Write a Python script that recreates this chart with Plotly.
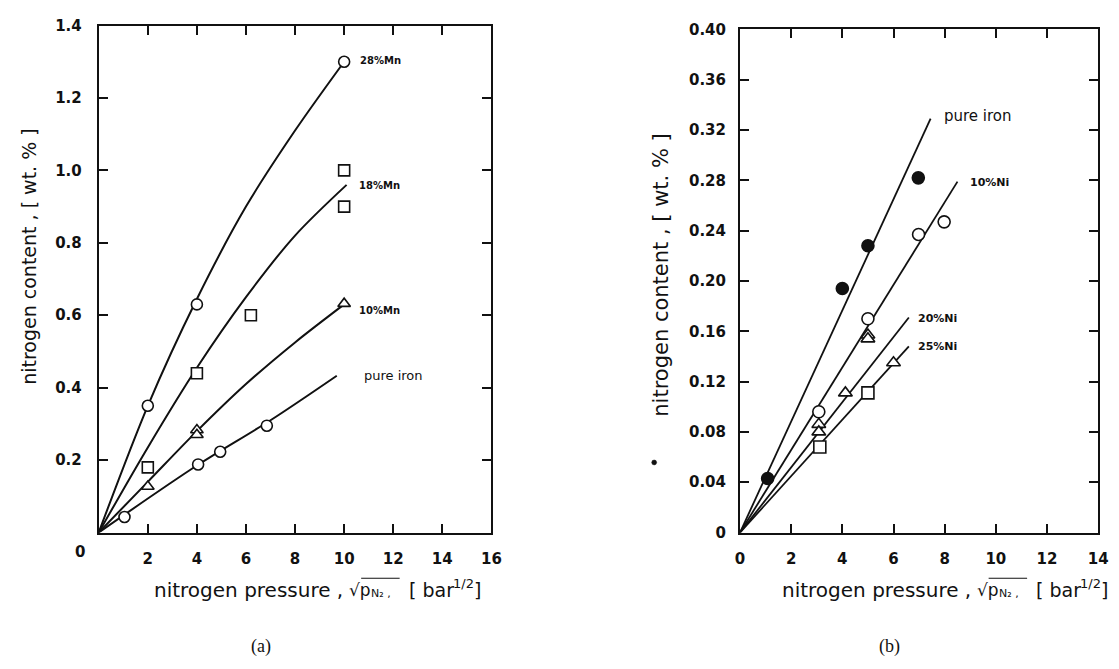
import plotly.graph_objects as go

W, H = 1119, 669

# ---------------- (a) Fe-Mn alloys ----------------
a_xticks = [2, 4, 6, 8, 10, 12, 14, 16]
a_xticktext = ["2", "4", "6", "8", "10", "12", "14", "16"]
a_yticks = [0.2, 0.4, 0.6, 0.8, 1.0, 1.2, 1.4]
a_yticktext = ["0.2", "0.4", "0.6", "0.8", "1.0", "1.2", "1.4"]

a_mn28_x = [2, 4, 10]
a_mn28_y = [0.35, 0.63, 1.30]
a_mn28_fit_x = [0, 2, 4, 6, 8, 10]
a_mn28_fit_y = [0, 0.35, 0.645, 0.90, 1.11, 1.30]

a_mn18_x = [2, 4, 6.2, 10, 10]
a_mn18_y = [0.18, 0.44, 0.60, 1.00, 0.90]
a_mn18_fit_x = [0, 2, 4, 6, 8, 10.1]
a_mn18_fit_y = [0, 0.235, 0.455, 0.65, 0.82, 0.96]

a_mn10_x = [2, 4, 4, 10]
a_mn10_y = [0.127, 0.283, 0.27, 0.632]
a_mn10_fit_x = [0, 2, 4, 6, 8, 10]
a_mn10_fit_y = [0, 0.14, 0.28, 0.41, 0.525, 0.63]

a_fe_x = [1.05, 4.05, 4.95, 6.85]
a_fe_y = [0.043, 0.188, 0.223, 0.295]
a_fe_fit_x = [0, 4, 7, 9.7]
a_fe_fit_y = [0, 0.185, 0.31, 0.433]

a_labels = ["28%Mn", "18%Mn", "10%Mn", "pure iron"]
a_label_x = [10.57, 10.53, 10.53, 10.73]
a_label_y = [1.303, 0.957, 0.613, 0.433]

# ---------------- (b) Fe-Ni alloys ----------------
b_xticks = [0, 2, 4, 6, 8, 10, 12, 14]
b_xticktext = ["0", "2", "4", "6", "8", "10", "12", "14"]
b_yticks = [0, 0.04, 0.08, 0.12, 0.16, 0.20, 0.24, 0.28, 0.32, 0.36, 0.40]
b_yticktext = ["0", "0.04", "0.08", "0.12", "0.16", "0.20", "0.24", "0.28", "0.32", "0.36", "0.40"]

b_fe_x = [1.08, 4.0, 5.0, 6.97]
b_fe_y = [0.043, 0.194, 0.228, 0.282]
b_fe_fit_x = [0, 7.45]
b_fe_fit_y = [0, 0.329]

b_ni10_x = [3.08, 5.0, 6.98, 7.98]
b_ni10_y = [0.096, 0.170, 0.237, 0.247]
b_ni10_fit_x = [0, 8.5]
b_ni10_fit_y = [0, 0.279]

b_ni20_x = [3.08, 3.08, 4.12, 5.0, 5.0, 6.0]
b_ni20_y = [0.086, 0.080, 0.111, 0.157, 0.154, 0.135]
b_ni20_fit_x = [0, 6.6]
b_ni20_fit_y = [0, 0.171]

b_ni25_x = [3.12, 5.0]
b_ni25_y = [0.068, 0.111]
b_ni25_fit_x = [0, 6.6]
b_ni25_fit_y = [0, 0.148]

b_labels = ["pure iron", "10%Ni", "20%Ni", "25%Ni"]
b_label_x = [7.9, 8.9, 6.86, 6.86]
b_label_y = [0.331, 0.278, 0.170, 0.148]

FONT = "DejaVu Sans"
BLACK = "#111111"


def px(x):
    return x / W


def py(y):
    return 1 - y / H


fig = go.Figure()


def add_line(x, y, xa, ya, spline=True, width=2):
    fig.add_trace(go.Scatter(
        x=x, y=y, mode="lines", xaxis=xa, yaxis=ya,
        line=dict(color=BLACK, width=width, shape="spline" if spline else "linear", smoothing=0.9),
        showlegend=False, hoverinfo="skip"))


def add_markers(x, y, xa, ya, symbol, size, filled=False):
    fig.add_trace(go.Scatter(
        x=x, y=y, mode="markers", xaxis=xa, yaxis=ya,
        marker=dict(symbol=symbol, size=size,
                    color=BLACK if filled else "white",
                    line=dict(color=BLACK, width=1.6)),
        showlegend=False, hoverinfo="skip"))


# (a)
add_line(a_mn28_fit_x, a_mn28_fit_y, "x", "y")
add_line(a_mn18_fit_x, a_mn18_fit_y, "x", "y")
add_line(a_mn10_fit_x, a_mn10_fit_y, "x", "y")
add_line(a_fe_fit_x, a_fe_fit_y, "x", "y")
add_markers(a_mn28_x, a_mn28_y, "x", "y", "circle", 11)
add_markers(a_mn18_x, a_mn18_y, "x", "y", "square", 11)
add_markers(a_mn10_x, a_mn10_y, "x", "y", "triangle-up", 11)
add_markers(a_fe_x, a_fe_y, "x", "y", "circle", 11)

# (b)
add_line(b_fe_fit_x, b_fe_fit_y, "x2", "y2", spline=False, width=1.8)
add_line(b_ni10_fit_x, b_ni10_fit_y, "x2", "y2", spline=False, width=1.8)
add_line(b_ni20_fit_x, b_ni20_fit_y, "x2", "y2", spline=False, width=1.8)
add_line(b_ni25_fit_x, b_ni25_fit_y, "x2", "y2", spline=False, width=1.8)
add_markers(b_fe_x, b_fe_y, "x2", "y2", "circle", 12, filled=True)
add_markers(b_ni10_x, b_ni10_y, "x2", "y2", "circle", 12)
add_markers(b_ni20_x, b_ni20_y, "x2", "y2", "triangle-up", 12)
add_markers(b_ni25_x, b_ni25_y, "x2", "y2", "square", 12)

tickfont = dict(family=FONT, size=15, color=BLACK, weight="bold")
axis_common = dict(showline=True, linewidth=2, linecolor=BLACK, mirror="ticks",
                   ticks="inside", ticklen=9, tickwidth=1.6, tickcolor=BLACK,
                   showgrid=False, zeroline=False, tickfont=tickfont,
                   tickmode="array", fixedrange=True)

fig.update_layout(
    width=W, height=H,
    margin=dict(l=0, r=0, t=0, b=0),
    paper_bgcolor="white", plot_bgcolor="white",
    xaxis=dict(domain=[px(95), px(493)], range=[0, 16], anchor="y",
               tickvals=a_xticks, ticktext=a_xticktext, ticklabelstandoff=11, **axis_common),
    yaxis=dict(domain=[py(538), py(17)], range=[0, 1.4], anchor="x",
               tickvals=a_yticks, ticktext=a_yticktext, ticklabelstandoff=12, **axis_common),
    xaxis2=dict(domain=[px(745), px(1108)], range=[0, 14], anchor="y2",
                tickvals=b_xticks, ticktext=b_xticktext, ticklabelstandoff=11, **axis_common),
    yaxis2=dict(domain=[py(538), py(21)], range=[0, 0.4], anchor="x2",
                tickvals=b_yticks, ticktext=b_yticktext, ticklabelstandoff=9, **axis_common),
)

ann = []


def text_at(t, x, y, size, xanchor="center", yanchor="middle", weight="normal",
            family=FONT, angle=0):
    ann.append(dict(text=t, x=px(x), y=py(y), xref="paper", yref="paper", showarrow=False,
                    xanchor=xanchor, yanchor=yanchor, textangle=angle, borderpad=0,
                    font=dict(family=family, size=size, color=BLACK, weight=weight)))


lab_font = dict(family=FONT, size=10, color=BLACK, weight="bold")
for t, x, y in zip(a_labels, a_label_x, a_label_y):
    f = dict(family=FONT, size=13, color=BLACK) if t == "pure iron" else lab_font
    ann.append(dict(text=t, x=x, y=y, xref="x", yref="y", xanchor="left", yanchor="middle",
                    showarrow=False, font=f))
for t, x, y in zip(b_labels, b_label_x, b_label_y):
    f = dict(family=FONT, size=15, color=BLACK) if t == "pure iron" else dict(family=FONT, size=11, color=BLACK, weight="bold")
    ann.append(dict(text=t, x=x, y=y, xref="x2", yref="y2", xanchor="left", yanchor="middle",
                    showarrow=False, font=f))

# corner zero of (a)
text_at("0", 76, 558, 15, weight="bold")

# y titles
text_at("nitrogen content , [ wt. % ]", 25, 254, 19, angle=-90)
text_at("nitrogen content , [ wt. % ]", 665, 273, 21, angle=-90)

shapes = []
# x titles (pieces so that sub/superscripts and the overline sit in place)
for end in (344, 980):
    text_at("nitrogen pressure ,", end, 597, 20, xanchor="right")
    text_at("√p", end + 4, 597, 17, xanchor="left")
    text_at("N₂ ,", end + 26, 601, 11, xanchor="left")
    text_at("[ bar", end + 64, 597, 19, xanchor="left")
    text_at("1/2", end + 109, 590, 13, xanchor="left")
    text_at("]", end + 130, 597, 19, xanchor="left")
    shapes.append(dict(type="line", xref="paper", yref="paper",
                       x0=px(end + 17), x1=px(end + 56), y0=py(585), y1=py(585),
                       line=dict(color=BLACK, width=1.2)))

# panel captions
text_at("(a)", 259, 655, 18, family="Liberation Serif")
text_at("(b)", 897, 655, 18, family="Liberation Serif")

# stray dot near right y title
shapes.append(dict(type="circle", xref="paper", yref="paper",
                   x0=px(655.5), x1=px(660.5), y0=py(468.5), y1=py(463.5),
                   fillcolor=BLACK, line=dict(color=BLACK, width=0.5)))

fig.update_layout(annotations=ann, shapes=shapes)

fig.write_html("out.html")
